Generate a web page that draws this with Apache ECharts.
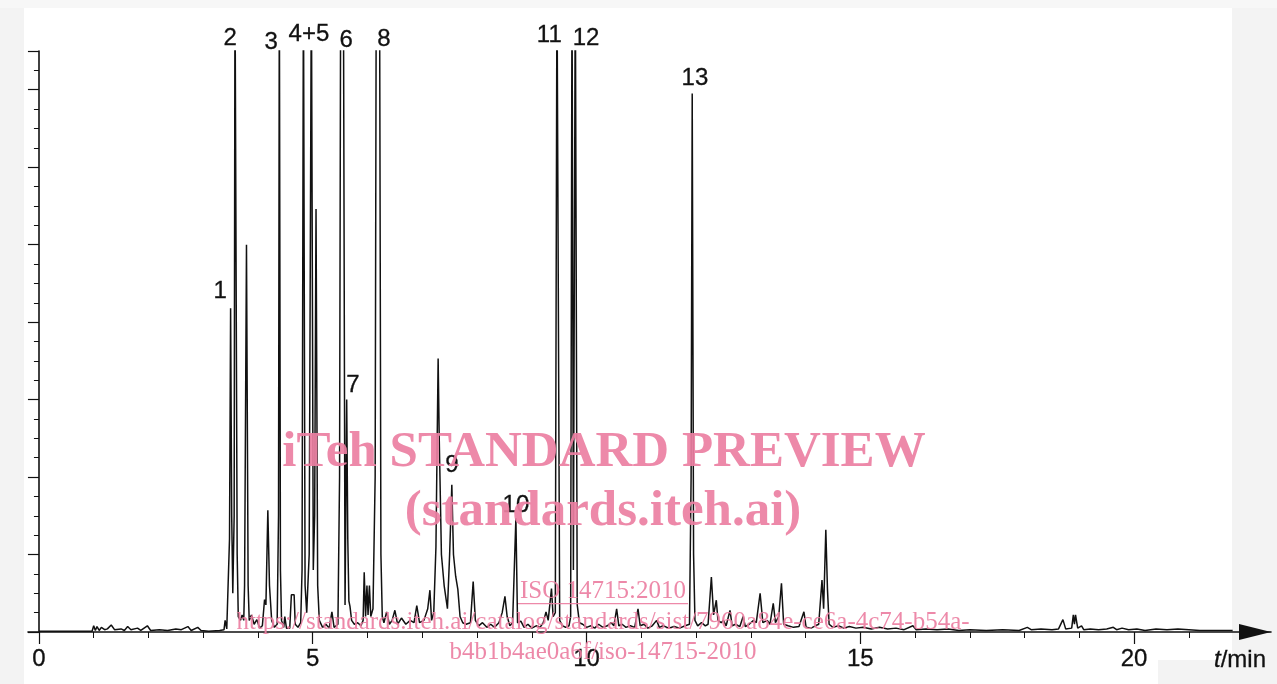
<!DOCTYPE html>
<html><head><meta charset="utf-8">
<script src="https://cdn.jsdelivr.net/npm/echarts@6/dist/echarts.min.js"></script>
<style>html,body{margin:0;padding:0;background:#fff}#c{width:1277px;height:684px}</style>
</head><body><div id="c"></div>
<script>
// Retention time (min)
const times = [
0.00,0.50,0.97,1.00,1.03,1.06,1.10,1.14,1.20,1.25,1.32,1.38,1.50,1.56,1.62,1.68,1.80,1.86,1.98,2.04,
2.20,2.35,2.50,2.60,2.72,2.78,2.90,2.96,3.10,3.30,3.38,3.40,3.43,3.46,3.48,3.50,3.52,3.54,3.565,3.58,
3.60,3.62,3.64,3.68,3.71,3.74,3.755,3.79,3.82,3.84,3.88,3.93,3.98,4.03,4.08,4.12,4.145,4.18,4.21,4.25,
4.30,4.35,4.375,4.39,4.41,4.43,4.47,4.49,4.52,4.58,4.61,4.66,4.68,4.73,4.78,4.805,4.83,4.86,4.89,4.935,
4.975,5.01,5.035,5.06,5.09,5.12,5.18,5.24,5.30,5.35,5.39,5.46,5.49,5.51,5.56,5.59,5.62,5.64,5.66,5.68,
5.71,5.76,5.82,5.88,5.92,5.94,5.965,5.99,6.01,6.035,6.06,6.10,6.14,6.16,6.22,6.245,6.27,6.30,6.35,6.40,
6.45,6.50,6.55,6.62,6.70,6.78,6.85,6.90,6.95,7.03,7.10,7.14,7.17,7.21,7.25,7.29,7.31,7.35,7.40,7.46,
7.50,7.54,7.57,7.61,7.65,7.69,7.74,7.80,7.88,7.93,7.97,8.03,8.10,8.18,8.25,8.32,8.40,8.46,8.51,8.55,
8.60,8.65,8.68,8.71,8.74,8.80,8.86,8.93,9.00,9.08,9.15,9.21,9.26,9.30,9.36,9.39,9.43,9.46,9.48,9.51,
9.56,9.62,9.68,9.71,9.735,9.76,9.795,9.83,9.87,9.93,10.00,10.08,10.15,10.22,10.30,10.38,10.45,10.50,10.55,10.59,
10.65,10.72,10.80,10.88,10.94,10.98,11.05,11.12,11.20,11.28,11.33,11.40,11.50,11.60,11.70,11.80,11.88,11.91,11.93,11.955,
11.98,12.03,12.10,12.17,12.22,12.28,12.32,12.37,12.40,12.46,12.50,12.55,12.62,12.66,12.72,12.80,12.86,12.90,12.97,13.05,
13.10,13.17,13.22,13.30,13.35,13.41,13.45,13.51,13.56,13.60,13.68,13.78,13.88,13.97,14.01,14.10,14.18,14.24,14.30,14.33,
14.37,14.40,14.43,14.50,14.60,14.70,14.80,14.92,15.05,15.20,15.35,15.50,15.65,15.80,15.96,16.02,16.20,16.40,16.60,16.80,
17.00,17.30,17.60,17.90,18.05,18.12,18.30,18.50,18.62,18.70,18.75,18.86,18.89,18.91,18.93,18.97,19.04,19.08,19.20,19.35,
19.50,19.62,19.68,19.78,19.90,20.05,20.20,20.40,20.60,20.80,21.00,21.20,21.50,21.80
];
// Detector signal (arbitrary units; peaks above 7.5 are off scale)
const values = [
0.01,0.01,0.01,0.08,0.02,0.07,0.02,0.06,0.03,0.04,0.09,0.03,0.04,0.02,0.07,0.03,0.05,0.02,0.08,0.02,
0.03,0.02,0.04,0.03,0.07,0.02,0.06,0.02,0.01,0.02,0.03,0.15,0.04,0.06,1.2,4.18,1.5,0.5,1.5,8.5,
8.5,1.0,0.2,0.15,0.22,0.15,0.6,5.0,0.6,0.15,0.22,0.1,0.16,0.05,0.08,0.42,0.35,1.57,0.6,0.15,
0.06,0.1,1.5,8.5,0.8,0.15,0.06,0.2,0.05,0.05,0.48,0.48,0.1,0.06,0.12,0.8,8.5,0.6,0.25,1.0,
8.5,0.8,1.5,5.46,0.6,0.15,0.06,0.1,0.05,0.26,0.06,0.1,2.0,8.5,8.5,0.35,3.0,1.2,0.4,0.33,
0.15,0.1,0.12,0.08,0.15,0.77,0.2,0.6,0.22,0.6,0.2,0.3,2.0,8.5,8.5,1.0,0.2,0.12,0.26,0.1,
0.15,0.28,0.1,0.18,0.1,0.15,0.12,0.34,0.12,0.15,0.3,0.54,0.15,0.25,1.1,3.53,2.5,1.0,0.6,0.3,
1.0,1.9,1.0,0.72,0.55,0.2,0.12,0.1,0.12,0.65,0.15,0.08,0.12,0.06,0.1,0.06,0.12,0.25,0.46,0.2,
0.08,0.12,0.1,1.47,0.12,0.14,0.06,0.1,0.05,0.08,0.06,0.12,0.26,0.15,0.56,0.2,0.25,8.5,8.5,0.15,
0.08,0.06,0.08,0.2,8.5,0.8,8.5,0.35,0.12,0.1,0.06,0.08,0.05,0.1,0.06,0.08,0.12,0.08,0.3,0.08,
0.1,0.06,0.08,0.06,0.3,0.08,0.1,0.05,0.08,0.15,0.06,0.08,0.05,0.07,0.05,0.08,0.1,2.0,6.95,1.0,
0.15,0.08,0.12,0.08,0.1,0.71,0.22,0.41,0.15,0.12,0.15,0.08,0.28,0.08,0.1,0.07,0.2,0.07,0.1,0.15,
0.12,0.5,0.12,0.15,0.1,0.37,0.12,0.2,0.63,0.1,0.08,0.06,0.07,0.26,0.06,0.05,0.08,0.1,0.67,0.3,
1.32,0.55,0.1,0.06,0.08,0.05,0.07,0.05,0.06,0.04,0.06,0.04,0.05,0.03,0.08,0.03,0.04,0.03,0.04,0.02,
0.03,0.02,0.03,0.02,0.06,0.03,0.04,0.03,0.04,0.16,0.04,0.05,0.22,0.1,0.22,0.05,0.08,0.03,0.04,0.03,
0.04,0.06,0.03,0.05,0.03,0.04,0.02,0.04,0.03,0.04,0.03,0.02,0.02,0.02
];
// Peak labels
const peakNames  = ['1','2','3','4+5','6','7','8','9','10','11','12','13'];
const peakLabelT = [3.31,3.49,4.24,4.93,5.61,5.735,6.30,7.54,8.71,9.32,9.99,11.98];
const peakLabelV = [4.40,7.66,7.61,7.72,7.64,3.19,7.65,2.15,1.64,7.70,7.66,7.15];
// Axis ticks
const xLabelValues = [0,5,10,15,20];
const xMinorTicks = [1,2,3,4,6,7,8,9,11,12,13,14,16,17,18,19,21,22];

const lineData = times.map((t,i)=>[t, values[i]]);
const labelData = peakNames.map((n,i)=>[peakLabelT[i], peakLabelV[i], n]);

const chart = echarts.init(document.getElementById('c'), null, {renderer:'canvas'});
const pink = '#ec7fa2';
const wmSerif = '"Liberation Serif","Times New Roman",serif';
const sans = '"Liberation Sans",Arial,sans-serif';
chart.setOption({
  backgroundColor: '#ffffff',
  animation: false,
  grid: {left: 28, right: 6, top: 51, bottom: 52, containLabel: false},
  xAxis: [{
    type: 'value', min: -0.2, max: 22.5, position: 'bottom',
    axisLine: {show: true, onZero: false, symbol: ['none','triangle'], symbolSize: [16, 32], symbolOffset: [0, -16],
      lineStyle: {color: '#111', width: 1.6}},
    axisTick: {show: true, customValues: xLabelValues, length: 12, lineStyle: {color: '#111', width: 1.2}},
    axisLabel: {show: true, customValues: xLabelValues, fontSize: 24, color: '#111', margin: 15,
      fontFamily: sans, textBorderColor: '#111', textBorderWidth: 0.3},
    splitLine: {show: false}
  },{
    type: 'value', min: -0.2, max: 22.5, position: 'bottom',
    axisLine: {show: false, onZero: false},
    axisTick: {show: true, customValues: xMinorTicks, length: 6, lineStyle: {color: '#111', width: 1}},
    axisLabel: {show: false},
    splitLine: {show: false}
  }],
  yAxis: {
    type: 'value', min: 0, max: 7.5, interval: 1,
    axisLine: {show: true, onZero: true, lineStyle: {color: '#111', width: 1.6}},
    axisTick: {show: true, length: 11, lineStyle: {color: '#111', width: 1.2}},
    minorTick: {show: true, splitNumber: 4, length: 5, lineStyle: {color: '#111', width: 1}},
    axisLabel: {show: false},
    splitLine: {show: false}
  },
  series: [{
    type: 'line', data: lineData, xAxisIndex: 0, showSymbol: false, symbol: 'none',
    lineStyle: {color: '#111', width: 1.5}, clip: true, z: 3
  },{
    type: 'scatter', data: labelData, xAxisIndex: 0, symbolSize: 1, clip: false,
    itemStyle: {color: 'transparent'},
    label: {show: true, position: 'inside', formatter: p => p.data[2], fontSize: 24, color: '#111',
      fontFamily: sans, textBorderColor: '#111', textBorderWidth: 0.3, opacity: 1},
    z: 4
  }],
  graphic: [
    {type:'rect', z:-5, silent:true, shape:{x:0,y:0,width:24,height:684}, style:{fill:'#f3f3f3'}},
    {type:'rect', z:-5, silent:true, shape:{x:1232,y:0,width:45,height:684}, style:{fill:'#f3f3f3'}},
    {type:'rect', z:-5, silent:true, shape:{x:1158,y:660,width:119,height:24}, style:{fill:'#f3f3f3'}},
    {type:'rect', z:-5, silent:true, shape:{x:0,y:0,width:1277,height:8}, style:{fill:'#f7f7f7'}},
    {type:'text', z:50, silent:true, x:1240, y:660,
      style:{text:'{i|t}/min', fill:'#111', font:'24px '+sans, align:'center', verticalAlign:'middle',
        stroke:'#111', lineWidth:0.3,
        rich:{i:{fontStyle:'italic', fontSize:24, fontFamily:sans, fill:'#111'}}}},
    {type:'text', z:100, silent:true, x:604, y:453,
      style:{text:'iTeh STANDARD PREVIEW', fill:pink, opacity:0.92, font:'bold 51px '+wmSerif, align:'center', verticalAlign:'middle'}},
    {type:'text', z:100, silent:true, x:603, y:512,
      style:{text:'(standards.iteh.ai)', fill:pink, opacity:0.92, font:'bold 51px '+wmSerif, align:'center', verticalAlign:'middle'}},
    {type:'text', z:100, silent:true, x:603, y:591,
      style:{text:'ISO 14715:2010', fill:pink, opacity:0.92, font:'25px '+wmSerif, align:'center', verticalAlign:'middle'}},
    {type:'rect', z:100, silent:true, shape:{x:518,y:603,width:170,height:1.3}, style:{fill:pink, opacity:0.92}},
    {type:'text', z:100, silent:true, x:603, y:622,
      style:{text:'https://standards.iteh.ai/catalog/standards/sist/7960a84e-ce6a-4c74-b54a-', fill:pink, opacity:0.92, font:'25px '+wmSerif, align:'center', verticalAlign:'middle'}},
    {type:'text', z:100, silent:true, x:603, y:652,
      style:{text:'b4b1b4ae0a6f/iso-14715-2010', fill:pink, opacity:0.92, font:'25px '+wmSerif, align:'center', verticalAlign:'middle'}}
  ]
});
</script></body></html>
